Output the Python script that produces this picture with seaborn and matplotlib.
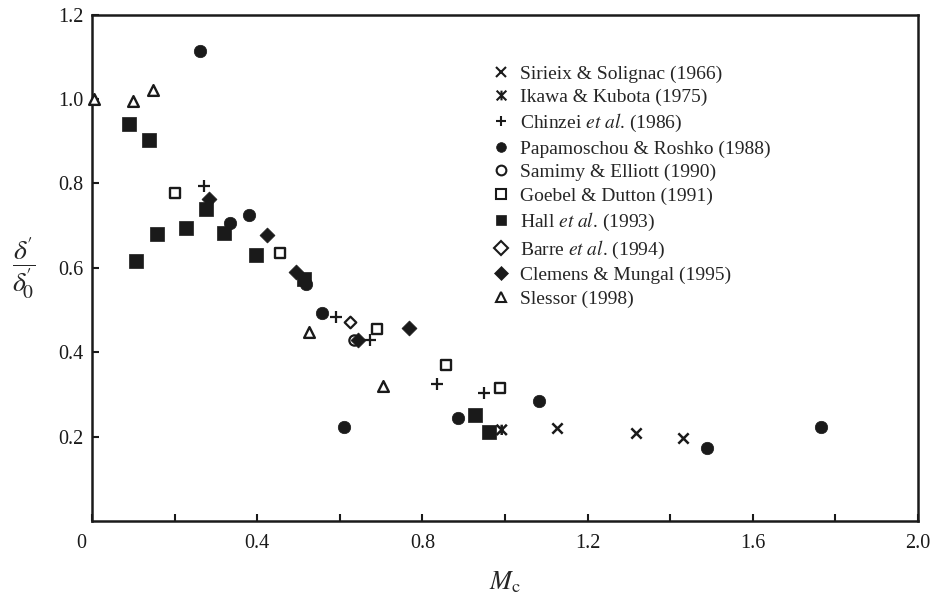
import numpy as np
import pandas as pd
import matplotlib
matplotlib.use("Agg")
import matplotlib.pyplot as plt
import matplotlib.transforms as mtransforms
import seaborn as sns
from matplotlib.path import Path
from matplotlib.lines import Line2D

# ---------------- data ----------------
sirieix_x = [1.125, 1.316, 1.430]
sirieix_y = [0.220, 0.209, 0.197]

ikawa_x = [0.992]
ikawa_y = [0.216]

chinzei_x = [0.272, 0.592, 0.672, 0.835, 0.950]
chinzei_y = [0.795, 0.483, 0.429, 0.325, 0.304]

papa_x = [0.262, 0.335, 0.380, 0.518, 0.556, 0.610, 0.885, 1.083, 1.490, 1.765]
papa_y = [1.114, 0.707, 0.725, 0.561, 0.494, 0.222, 0.245, 0.284, 0.172, 0.222]

samimy_x = [0.634]
samimy_y = [0.428]

goebel_x = [0.201, 0.455, 0.690, 0.857, 0.989]
goebel_y = [0.778, 0.635, 0.456, 0.370, 0.315]

hall_x = [0.090, 0.138, 0.107, 0.157, 0.227, 0.277, 0.320, 0.396, 0.513, 0.927, 0.962]
hall_y = [0.941, 0.902, 0.616, 0.680, 0.695, 0.740, 0.682, 0.630, 0.573, 0.252, 0.212]

barre_x = [0.625]
barre_y = [0.472]

clemens_x = [0.284, 0.424, 0.494, 0.643, 0.767]
clemens_y = [0.762, 0.678, 0.589, 0.430, 0.458]

slessor_x = [0.005, 0.099, 0.148, 0.526, 0.704]
slessor_y = [1.000, 0.996, 1.021, 0.449, 0.320]

labels = [
    "Sirieix & Solignac (1966)",
    "Ikawa & Kubota (1975)",
    r"Chinzei $\it{et\ al}$. (1986)",
    "Papamoschou & Roshko (1988)",
    "Samimy & Elliott (1990)",
    "Goebel & Dutton (1991)",
    r"Hall $\it{et\ al}$. (1993)",
    r"Barre $\it{et\ al}$. (1994)",
    "Clemens & Mungal (1995)",
    "Slessor (1998)",
]

x_ticklabels = ["0", "0.4", "0.8", "1.2", "1.6", "2.0"]
y_ticklabels = ["0.2", "0.4", "0.6", "0.8", "1.0", "1.2"]

# ---------------- style ----------------
sns.set_theme(style="ticks")
plt.rcParams["font.family"] = ["Liberation Serif", "DejaVu Serif"]
plt.rcParams["mathtext.fontset"] = "stix"

ikawa_marker = Path(
    [(-1, -1), (1, 1), (-1, 1), (1, -1), (0, -1), (0, 1)],
    [Path.MOVETO, Path.LINETO] * 3,
)

fig = plt.figure(figsize=(9.32, 5.96), dpi=100)
ax = fig.add_axes([92 / 932, 1 - 521 / 596, (918 - 92) / 932, (521 - 14.6) / 596])

series = [
    (sirieix_x, sirieix_y, dict(marker="x", s=55, color="k", linewidth=1.8)),
    (ikawa_x, ikawa_y, dict(marker=ikawa_marker, s=55, color="k", facecolor="none", edgecolor="k", linewidth=1.8)),
    (chinzei_x, chinzei_y, dict(marker="+", s=80, color="k", linewidth=1.6)),
    (papa_x, papa_y, dict(marker="o", s=80, color="k", edgecolor="k", linewidth=0.5)),
    (samimy_x, samimy_y, dict(marker="o", s=55, color="k", facecolor="white", edgecolor="k", linewidth=1.6)),
    (goebel_x, goebel_y, dict(marker="s", s=62, color="k", facecolor="white", edgecolor="k", linewidth=1.7)),
    (hall_x, hall_y, dict(marker="s", s=95, color="k", edgecolor="k", linewidth=0.5)),
    (barre_x, barre_y, dict(marker="D", s=35, color="k", facecolor="white", edgecolor="k", linewidth=1.6)),
    (clemens_x, clemens_y, dict(marker="D", s=58, color="k", edgecolor="k", linewidth=0.5)),
    (slessor_x, slessor_y, dict(marker="^", s=60, color="k", facecolor="white", edgecolor="k", linewidth=1.7)),
]

for xs, ys, kw in series:
    df = pd.DataFrame({"Mc": xs, "d": ys})
    sns.scatterplot(data=df, x="Mc", y="d", ax=ax, legend=False, clip_on=False, zorder=3, **kw)

ax.set_xlim(0, 2.0)
ax.set_ylim(0, 1.2)
ax.set_xticks([0, 0.4, 0.8, 1.2, 1.6, 2.0])
ax.set_xticklabels(x_ticklabels)
ax.set_xticks([0.2, 0.6, 1.0, 1.4, 1.8], minor=True)
ax.set_yticks([0.2, 0.4, 0.6, 0.8, 1.0, 1.2])
ax.set_yticklabels(y_ticklabels)
ax.tick_params(axis="both", which="both", direction="in", length=5, width=1.5, colors="k", labelsize=14.5)
ax.tick_params(axis="x", which="major", pad=9)
ax.tick_params(axis="y", which="major", pad=6)
for sp in ax.spines.values():
    sp.set_linewidth(1.8)
    sp.set_color("k")

ax.set_xlabel(r"$M_\mathrm{c}$", fontsize=19, labelpad=12)
ax.set_ylabel("")
fig.text(24 / 932, 1 - 268 / 596,
         r"$\dfrac{\delta^{\!\prime}}{\delta^{\!\prime}_{\!0}}$", fontsize=20,
         ha="center", va="center")

# legend
handles = []
for (xs, ys, kw), lab in zip(series, labels):
    m = kw["marker"]
    fc = kw.get("facecolor", "k")
    h = Line2D([], [], linestyle="none", marker=m, markersize=7,
               markerfacecolor=fc, markeredgecolor="k",
               markeredgewidth=1.5 if fc != "k" or m in ("x", "+") else 0.5, label=lab)
    handles.append(h)

leg = ax.legend(handles=handles, loc="upper left", bbox_to_anchor=(491 / 932, 1 - 65 / 596),
                bbox_transform=fig.transFigure, frameon=False, fontsize=14,
                handlelength=1.0, handletextpad=0.5, labelspacing=0.3,
                borderpad=0, borderaxespad=0)

# shift the origin label "0" slightly to the left, as in the reference
fig.canvas.draw()
lbl0 = ax.get_xticklabels()[0]
lbl0.set_transform(lbl0.get_transform() + mtransforms.ScaledTranslation(-11 / 100, 0, fig.dpi_scale_trans))

fig.savefig("out.png", dpi=100)
